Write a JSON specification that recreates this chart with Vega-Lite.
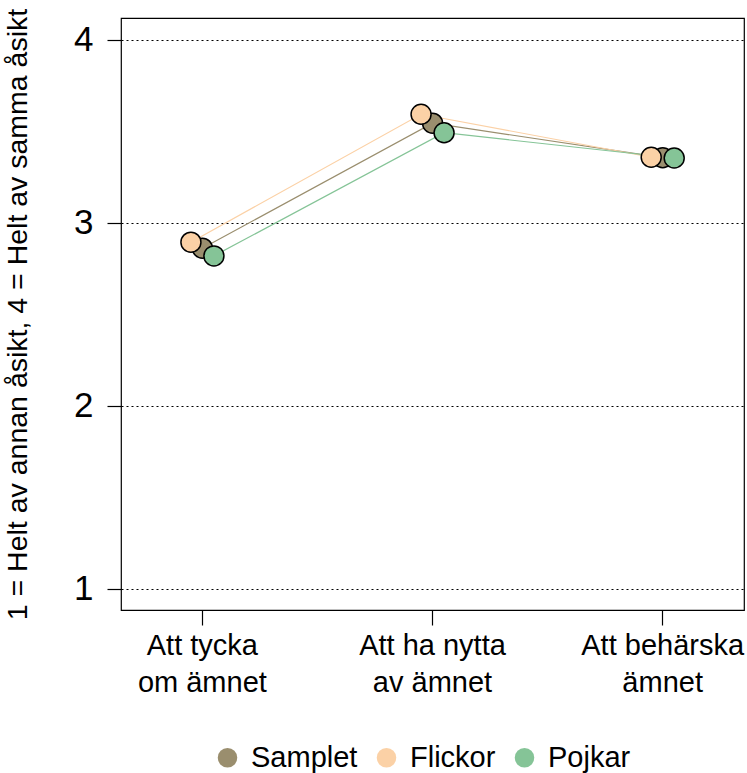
{
  "$schema": "https://vega.github.io/schema/vega-lite/v6.json",
  "width": 623,
  "height": 592,
  "autosize": {"type": "none"},
  "padding": {"left": 121, "top": 18, "right": 3, "bottom": 163},
  "background": "white",
  "config": {
    "font": "Liberation Sans",
    "view": {"stroke": "black", "strokeWidth": 1.2},
    "axis": {"labelColor": "black", "titleColor": "black", "tickColor": "black", "domain": false}
  },
  "data": {
    "values": [
      {"kategori": "Att tycka om ämnet", "grupp": "Samplet", "varde": 2.862},
      {"kategori": "Att tycka om ämnet", "grupp": "Flickor", "varde": 2.895},
      {"kategori": "Att tycka om ämnet", "grupp": "Pojkar", "varde": 2.82},
      {"kategori": "Att ha nytta av ämnet", "grupp": "Samplet", "varde": 3.545},
      {"kategori": "Att ha nytta av ämnet", "grupp": "Flickor", "varde": 3.594},
      {"kategori": "Att ha nytta av ämnet", "grupp": "Pojkar", "varde": 3.493},
      {"kategori": "Att behärska ämnet", "grupp": "Samplet", "varde": 3.357},
      {"kategori": "Att behärska ämnet", "grupp": "Flickor", "varde": 3.359},
      {"kategori": "Att behärska ämnet", "grupp": "Pojkar", "varde": 3.355}
    ]
  },
  "resolve": {"legend": {"color": "independent"}},
  "encoding": {
    "x": {
      "field": "kategori",
      "type": "nominal",
      "sort": ["Att tycka om ämnet", "Att ha nytta av ämnet", "Att behärska ämnet"],
      "scale": {"type": "band", "paddingInner": 0.5, "paddingOuter": 0.1035},
      "axis": {
        "title": null,
        "labelAngle": 0,
        "labelFontSize": 29,
        "labelLineHeight": 37,
        "labelPadding": 6,
        "tickSize": 15,
        "tickWidth": 1.2,
        "grid": false,
        "labelExpr": "datum.value == 'Att tycka om ämnet' ? ['Att tycka', 'om ämnet'] : datum.value == 'Att ha nytta av ämnet' ? ['Att ha nytta', 'av ämnet'] : ['Att behärska', 'ämnet']"
      }
    },
    "xOffset": {
      "field": "grupp",
      "type": "nominal",
      "scale": {"domain": ["Flickor", "Samplet", "Pojkar"], "paddingInner": 0, "paddingOuter": 0, "range": [46.1, 69.1]}
    },
    "y": {
      "field": "varde",
      "type": "quantitative",
      "scale": {"domain": [0.885, 4.12], "nice": false, "zero": false},
      "axis": {
        "title": "1 = Helt av annan åsikt, 4 = Helt av samma åsikt",
        "titleFontSize": 28.5,
        "titleFontWeight": "normal",
        "titlePadding": 41,
        "values": [1, 2, 3, 4],
        "format": "d",
        "labelFontSize": 35,
        "labelPadding": 14,
        "tickSize": 14,
        "tickWidth": 1.2,
        "grid": true,
        "gridColor": "black",
        "gridDash": [2, 3],
        "gridWidth": 1,
        "gridOpacity": 1
      }
    }
  },
  "layer": [
    {
      "mark": {"type": "line", "strokeWidth": 1.2},
      "encoding": {
        "detail": {"field": "grupp"},
        "color": {
          "field": "grupp",
          "type": "nominal",
          "scale": {"domain": ["Samplet", "Flickor", "Pojkar"], "range": ["#9A8E6E", "#FBD1A6", "#85C497"]},
          "legend": null
        }
      }
    },
    {
      "mark": {"type": "point", "filled": true, "size": 400, "opacity": 1, "stroke": "black", "strokeWidth": 1.5},
      "encoding": {
        "color": {
          "field": "grupp",
          "type": "nominal",
          "scale": {"domain": ["Samplet", "Flickor", "Pojkar"], "range": ["#9A8E6E", "#FBD1A6", "#85C497"]},
          "legend": {
            "title": null,
            "orient": "none",
            "direction": "horizontal",
            "legendX": 92,
            "legendY": 725,
            "labelFontSize": 29,
            "labelColor": "black",
            "symbolType": "circle",
            "symbolSize": 380,
            "symbolStrokeWidth": 0,
            "symbolOpacity": 1,
            "labelOffset": 9,
            "columnPadding": 14,
            "labelLimit": 300
          }
        }
      }
    }
  ]
}
